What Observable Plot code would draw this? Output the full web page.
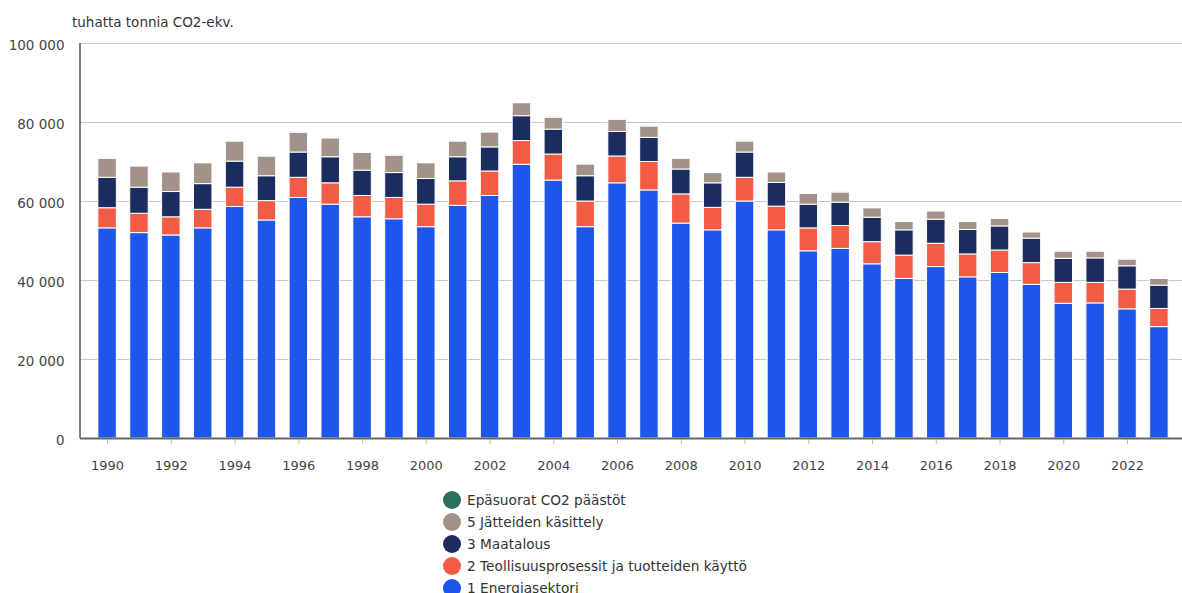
<!DOCTYPE html>
<html>
<head>
<meta charset="utf-8">
<script src="https://cdn.jsdelivr.net/npm/d3@7"></script>
<script src="https://cdn.jsdelivr.net/npm/@observablehq/plot@0.6"></script>
<style>
  html, body { margin: 0; padding: 0; background: #fff; }
  body { width: 1182px; height: 593px; position: relative; overflow: hidden; font-family: "DejaVu Sans", sans-serif; color: #333; }
  #title { position: absolute; left: 72px; top: 14px; font-size: 13.5px; line-height: 16px; color: #333; }
  #chart { position: absolute; left: 0; top: 30px; }
  #legend { position: absolute; left: 443px; top: 489px; font-size: 13.7px; color: #333; }
  .row { display: flex; align-items: center; height: 22px; }
  .dot { width: 18px; height: 18px; border-radius: 50%; margin-right: 6px; flex: none; }
</style>
</head>
<body>
<div id="title">tuhatta tonnia CO2-ekv.</div>
<div id="chart"></div>
<div id="legend"></div>
<script>
const years = [1990,1991,1992,1993,1994,1995,1996,1997,1998,1999,2000,2001,2002,2003,2004,2005,2006,2007,2008,2009,2010,2011,2012,2013,2014,2015,2016,2017,2018,2019,2020,2021,2022,2023];
const sectors = ["1 Energiasektori", "2 Teollisuusprosessit ja tuotteiden käyttö", "3 Maatalous", "5 Jätteiden käsittely", "Epäsuorat CO2 päästöt"];
const colors = ["#1E56EC", "#F25C45", "#1B2D5E", "#A39289", "#2A7062"];
const energia    = [53200,52000,51400,53200,58600,55200,60900,59200,56000,55500,53500,58900,61400,69300,65300,53500,64600,62800,54400,52700,60000,52700,47400,48000,44100,40400,43400,40800,41900,38900,34100,34200,32700,28200];
const teollisuus = [5100,4900,4600,4700,4900,4900,5100,5400,5400,5400,5700,6200,6200,6000,6600,6500,6800,7200,7400,5700,6000,6000,5800,5800,5600,5900,5900,5800,5700,5500,5300,5200,5000,4600];
const maatalous  = [7700,6600,6400,6500,6600,6300,6400,6600,6400,6300,6500,6100,6100,6300,6300,6400,6200,6100,6300,6200,6400,6000,6000,5900,6200,6400,6100,6200,6100,6200,6100,6200,5900,5900];
const jatteet    = [4800,5400,5000,5300,5100,5000,5000,4800,4500,4400,4000,4000,3800,3300,3000,3000,3100,2900,2700,2600,2800,2700,2700,2600,2400,2100,2100,2000,1900,1600,1800,1700,1700,1700];
const epasuorat  = [120,110,110,110,110,100,100,100,100,100,90,90,90,90,90,80,80,80,80,70,70,70,70,60,60,60,60,60,60,50,50,50,50,50];
const yTicks = [0, 20000, 40000, 60000, 80000, 100000];
const xTicks = [1990,1992,1994,1996,1998,2000,2002,2004,2006,2008,2010,2012,2014,2016,2018,2020,2022];

const series = [energia, teollisuus, maatalous, jatteet, epasuorat];
const data = [];
years.forEach((yr, i) => {
  sectors.forEach((s, k) => data.push({year: yr, sector: s, value: series[k][i]}));
});

const fmt = d => d3.format(",")(d).replace(/,/g, " ");

const plot = Plot.plot({
  width: 1182,
  height: 448,
  marginTop: 13,
  marginBottom: 40,
  marginLeft: 80,
  marginRight: 0,
  style: {fontFamily: "DejaVu Sans, sans-serif", fontSize: "13px", color: "#333", background: "transparent"},
  x: {type: "band", domain: years, range: [80, 1186], paddingInner: 0.42, paddingOuter: 0.56, round: false, axis: null, label: null},
  y: {domain: [0, 100000], axis: null, label: null},
  color: {domain: sectors, range: colors},
  marks: [
    Plot.gridY(yTicks.filter(d => d > 0), {stroke: "#c8c8c8", strokeOpacity: 1, strokeWidth: 1.2}),
    Plot.barY(data, {x: "year", y: "value", fill: "sector", stroke: "white", strokeWidth: 1, order: sectors}),
    Plot.axisY(yTicks, {tickSize: 0, tickPadding: 16, tickFormat: fmt, fill: "#444", fontSize: 13.5, dy: 2, label: null}),
    Plot.axisX(xTicks, {tickSize: 6, tickPadding: 16, tickFormat: d => String(d), stroke: "#bbb", fill: "#444", fontSize: 13, label: null}),
    Plot.ruleY([0], {stroke: "#666", strokeWidth: 2})
  ]
});

// left axis line, placed from the scales
const xs = plot.scale("x"), ys = plot.scale("y");
d3.select(plot).append("line")
  .attr("x1", xs.range[0]).attr("x2", xs.range[0])
  .attr("y1", ys.apply(0)).attr("y2", ys.apply(100000))
  .attr("stroke", "#555").attr("stroke-width", 1.5);

document.getElementById("chart").appendChild(plot);

const legend = document.getElementById("legend");
[...sectors].reverse().forEach(s => {
  const row = document.createElement("div");
  row.className = "row";
  const dot = document.createElement("span");
  dot.className = "dot";
  dot.style.background = colors[sectors.indexOf(s)];
  const label = document.createElement("span");
  label.textContent = s;
  row.appendChild(dot); row.appendChild(label);
  legend.appendChild(row);
});
</script>
</body>
</html>
